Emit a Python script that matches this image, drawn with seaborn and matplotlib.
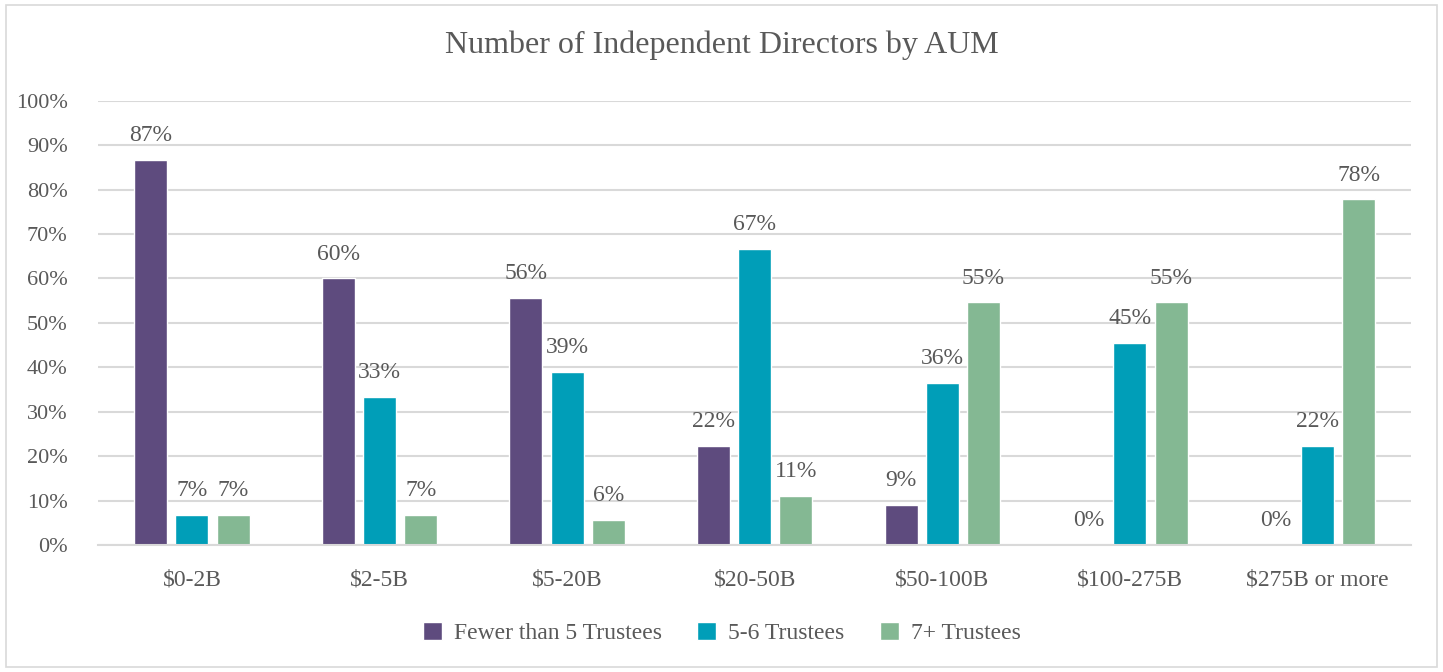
import matplotlib
matplotlib.use("Agg")
import matplotlib.pyplot as plt
import seaborn as sns
import pandas as pd
from matplotlib.patches import Rectangle

categories = ["$0-2B", "$2-5B", "$5-20B", "$20-50B", "$50-100B", "$100-275B", "$275B or more"]
series_names = ["Fewer than 5 Trustees", "5-6 Trustees", "7+ Trustees"]
fewer_than_5 = [0.867, 0.600, 0.556, 0.222, 0.091, 0.0, 0.0]
five_to_six = [0.067, 0.333, 0.389, 0.667, 0.364, 0.454, 0.222]
seven_plus = [0.067, 0.067, 0.056, 0.111, 0.546, 0.546, 0.778]
colors = ["#5E4B7E", "#009EB8", "#84B893"]
title = "Number of Independent Directors by AUM"

rows = []
for name, vals in zip(series_names, [fewer_than_5, five_to_six, seven_plus]):
    for c, v in zip(categories, vals):
        rows.append({"AUM": c, "Series": name, "Value": v})
df = pd.DataFrame(rows)

sns.set_theme(style="white")
plt.rcParams["font.family"] = ["Liberation Serif", "DejaVu Serif"]
text_color = "#595959"

fig = plt.figure(figsize=(14.43, 6.72), dpi=100)
ax = fig.add_axes([0.068, 0.189, 0.910, 0.661])

sns.barplot(data=df, x="AUM", y="Value", hue="Series", order=categories,
            hue_order=series_names, palette=colors, width=0.66, gap=0.2,
            ax=ax, saturation=1, legend=True)

ax.set_ylim(0, 1.0)
ax.set_xlim(-0.5, len(categories) - 0.5)
ax.set_yticks([i / 10 for i in range(11)])
ax.set_yticklabels([f"{i*10}%" for i in range(11)], fontsize=16, color=text_color)
ax.tick_params(axis="x", labelsize=17, labelcolor=text_color, length=0, pad=18)
ax.tick_params(axis="y", length=0, pad=22)
ax.set_xlabel("")
ax.set_ylabel("")
ax.yaxis.grid(True, color="#D9D9D9", linewidth=1.5)
ax.set_axisbelow(True)
for s in ["top", "right", "left"]:
    ax.spines[s].set_visible(False)
ax.spines["bottom"].set_color("#D9D9D9")
ax.spines["bottom"].set_linewidth(1.5)

for cont in ax.containers:
    labels = [f"{round(b.get_height()*100):.0f}%" for b in cont]
    ax.bar_label(cont, labels=labels, padding=10, fontsize=17, color=text_color)

handles, labs = ax.get_legend_handles_labels()
ax.legend(handles, labs, loc="upper center", bbox_to_anchor=(0.475, -0.125), ncol=3,
          frameon=False, fontsize=17, handlelength=0.8, handleheight=0.8,
          columnspacing=1.5, handletextpad=0.5, labelcolor=text_color)

fig.suptitle(title, fontsize=23, color=text_color, y=0.955, x=0.5)

fig.patches.append(Rectangle((0.004, 0.007), 0.992, 0.986, transform=fig.transFigure,
                             fill=False, edgecolor="#D9D9D9", linewidth=1.2))

fig.savefig("out.png", dpi=100, facecolor="white")
